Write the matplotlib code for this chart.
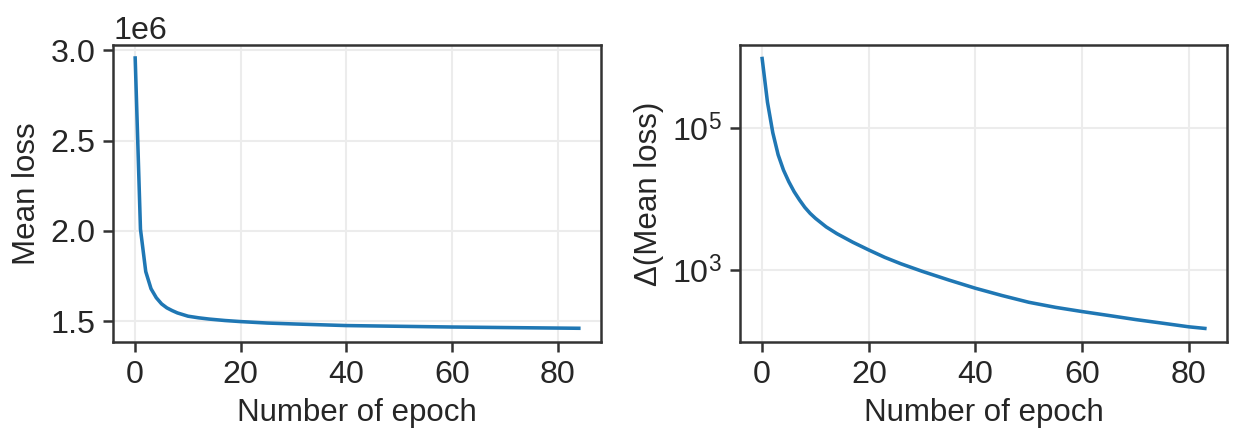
import matplotlib
matplotlib.use("Agg")
import matplotlib.pyplot as plt
import numpy as np

# mean loss per epoch
loss_epoch = [0, 1, 2, 3, 4, 5, 6, 7, 8, 9, 10, 12, 14, 17, 20, 25, 30, 40, 50, 60, 70, 84]
mean_loss = [2.958e6, 2.01e6, 1.775e6, 1.68e6, 1.63e6, 1.596e6, 1.574e6, 1.559e6, 1.546e6,
             1.537e6, 1.528e6, 1.519e6, 1.512e6, 1.504e6, 1.498e6, 1.490e6, 1.485e6,
             1.476e6, 1.472e6, 1.468e6, 1.465e6, 1.461e6]

# change of mean loss per epoch
delta_epoch = [0, 1, 2, 3, 4, 5, 6, 7, 8, 9, 10, 12, 14, 17, 20, 23, 26, 30, 35, 40, 45, 50,
               55, 60, 65, 70, 75, 80, 83]
delta_loss = [944000, 229000, 85100, 41700, 25400, 17400, 12600, 9660, 7590, 6240, 5310,
              4030, 3240, 2450, 1905, 1500, 1220, 955, 720, 551, 435, 350, 297, 259, 228, 200,
              178, 158, 150]

plt.rcParams["font.family"] = ["Liberation Sans", "DejaVu Sans"]
plt.rcParams["font.size"] = 15
plt.rcParams["axes.edgecolor"] = "#333333"
plt.rcParams["axes.linewidth"] = 1.2
plt.rcParams["xtick.color"] = "#333333"
plt.rcParams["ytick.color"] = "#333333"
plt.rcParams["xtick.labelcolor"] = "#262626"
plt.rcParams["ytick.labelcolor"] = "#262626"
plt.rcParams["axes.labelcolor"] = "#262626"
plt.rcParams["xtick.major.width"] = 1.2
plt.rcParams["ytick.major.width"] = 1.2
plt.rcParams["xtick.major.size"] = 5
plt.rcParams["ytick.major.size"] = 5
plt.rcParams["xtick.labelsize"] = 15.5
plt.rcParams["ytick.labelsize"] = 15.5

fig = plt.figure(figsize=(1244 / 150, 441 / 150), dpi=150)
ax1 = fig.add_axes([113 / 1244, 99 / 441, 488 / 1244, 297 / 441])
ax2 = fig.add_axes([740 / 1244, 99 / 441, 487 / 1244, 297 / 441])

line_color = "#1f77b4"

ax1.plot(loss_epoch, mean_loss, color=line_color, lw=1.7)
ax1.set_xlabel("Number of epoch")
ax1.set_ylabel("Mean loss")
ax1.set_xticks([0, 20, 40, 60, 80])
ax1.set_yticks([1.5e6, 2.0e6, 2.5e6, 3.0e6])
ax1.set_xlim(-4.2, 88.2)
ax1.set_ylim(1.385e6, 3.03e6)

ax2.plot(delta_epoch, delta_loss, color=line_color, lw=1.7)
ax2.set_yscale("log")
ax2.set_xlabel("Number of epoch")
ax2.set_ylabel("Δ(Mean loss)")
ax2.set_xticks([0, 20, 40, 60, 80])
ax2.set_yticks([1e3, 1e5])
ax2.yaxis.set_minor_locator(matplotlib.ticker.NullLocator())
ax2.set_xlim(-4.15, 87.15)
ax2.set_ylim(10 ** 1.985, 10 ** 6.165)

for ax in (ax1, ax2):
    ax.grid(True, color="#ececec", lw=1.0)
    ax.set_axisbelow(True)

fig.savefig("out.png", dpi=150)
